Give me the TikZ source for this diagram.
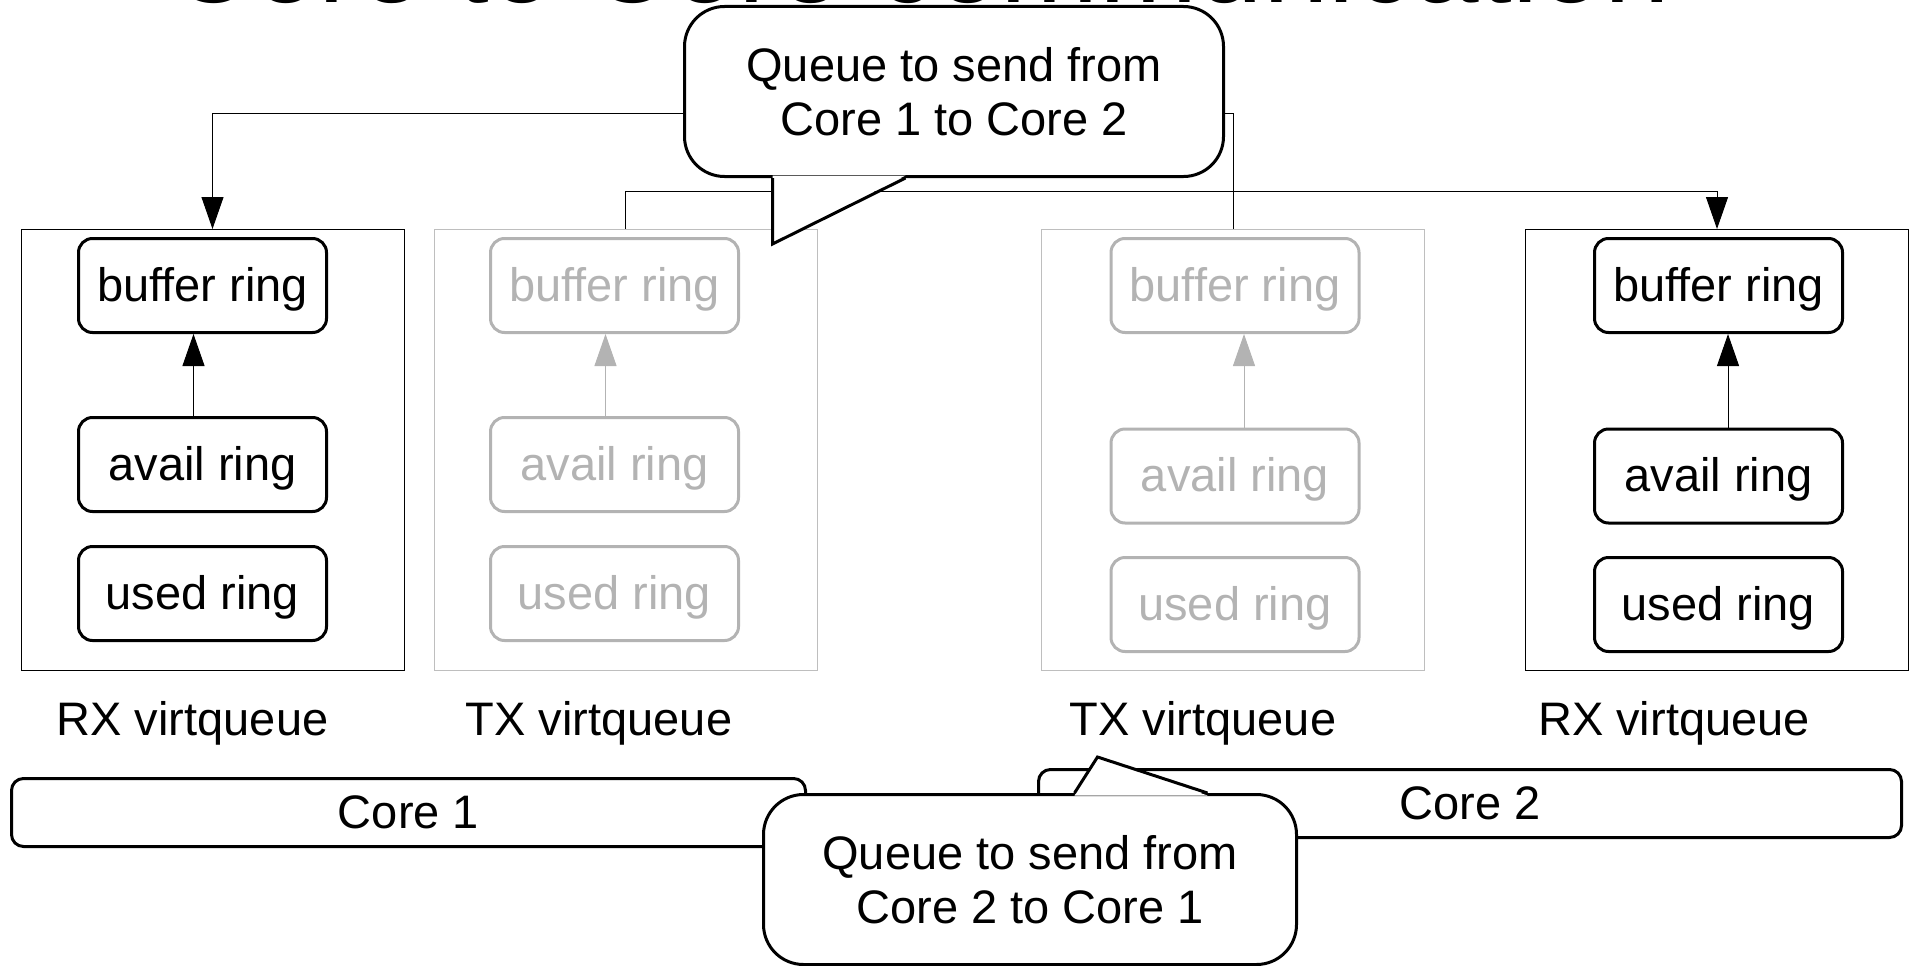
\documentclass[tikz,border=0pt]{standalone}
\usepackage{fontspec}
\setmainfont{Liberation Sans}
\usetikzlibrary{arrows.meta}

\definecolor{ringgray}{HTML}{B3B3B3}
\definecolor{boxgray}{HTML}{BEBEBE}

\tikzset{
    txt/.style={font=\fontsize{47}{54}\selectfont},
    vq/.style={draw, line width=1pt, minimum width=383pt, minimum height=441pt, inner sep=0pt},
    ring/.style={txt, draw, line width=3pt, rounded corners=14pt, minimum width=248pt,
        minimum height=94pt, inner sep=0pt, text height=42pt, text depth=11pt},
    ringoff/.style={ring, draw=ringgray, text=ringgray},
    feed/.style={-{Triangle[length=32pt,width=22pt]}, line width=1pt},
    core/.style={txt, draw, line width=3pt, rounded corners=12pt, minimum height=68pt,
        inner sep=0pt, text height=42pt, text depth=10pt},
    bubble/.style={txt, draw, fill=white, line width=3pt, rounded corners=40pt,
        minimum height=170pt, align=center, inner sep=0pt},
    tail/.style={line width=3pt, line join=miter}
}

\begin{document}
\begin{tikzpicture}[x=1pt,y=-1pt]
    \useasboundingbox (0,0) rectangle (1916,966);

    % title, mostly cut off by the top edge
    \node[font=\fontsize{118}{126}\selectfont, anchor=base] (title) at (919,3) {Core to Core communication};

    % the four virtqueues
    \node[vq] (rxA) at (212.5,450) {};
    \node[vq, draw=boxgray] (txA) at (625.5,450) {};
    \node[vq, draw=boxgray] (txB) at (1233,450) {};
    \node[vq] (rxB) at (1717,450) {};

    \node[ring] (bfA) at (202.5,285.5) {buffer ring};
    \node[ring] (avA) at (202.5,464.5) {avail ring};
    \node[ring] (usA) at (202.5,593.5) {used ring};
    \node[ringoff] (bfB) at (614.5,285.5) {buffer ring};
    \node[ringoff] (avB) at (614.5,464.5) {avail ring};
    \node[ringoff] (usB) at (614.5,593.5) {used ring};
    \node[ringoff] (bfC) at (1235,285.5) {buffer ring};
    \node[ringoff] (avC) at (1235,476) {avail ring};
    \node[ringoff] (usC) at (1235,604.5) {used ring};
    \node[ring] (bfD) at (1718.5,285.5) {buffer ring};
    \node[ring] (avD) at (1718.5,476) {avail ring};
    \node[ring] (usD) at (1718.5,604.5) {used ring};

    \draw[feed] ([xshift=-9pt]avA.north) -- ([xshift=-9pt]bfA.south);
    \draw[feed, ringgray] ([xshift=-9pt]avB.north) -- ([xshift=-9pt]bfB.south);
    \draw[feed, ringgray] ([xshift=9pt]avC.north) -- ([xshift=9pt]bfC.south);
    \draw[feed] ([xshift=9.5pt]avD.north) -- ([xshift=9.5pt]bfD.south);

    \node[txt, anchor=base] (lrxA) at (192.5,735) {RX virtqueue};
    \node[txt, anchor=base] (ltxA) at (599,735) {TX virtqueue};
    \node[txt, anchor=base] (ltxB) at (1203,735) {TX virtqueue};
    \node[txt, anchor=base] (lrxB) at (1674,735) {RX virtqueue};

    % TX of one core feeds RX of the other
    \draw[feed] (txB.north) -- ++(0,-116) -| (rxA.north);
    \draw[feed] (txA.north) -- ++(0,-38) -| (rxB.north);

    \node[core, minimum width=794pt] (coreA) at (408.5,812.5) {Core 1};
    \node[core, minimum width=863pt] (coreB) at (1470,803.5) {Core 2};

    % callouts
    \node[bubble, minimum width=539pt] (qa) at (954,91.5) {Queue to send from\\Core 1 to Core 2};
    \coordinate (qatip) at (772.5,244);
    \fill[white] ([xshift=89.5pt,yshift=2.5pt]qa.south west) -- (qatip) -- ([xshift=222.5pt,yshift=2.5pt]qa.south west) -- cycle;
    \draw[tail] ([xshift=89.5pt]qa.south west) -- (qatip) -- ([xshift=222.5pt]qa.south west);

    \node[bubble, minimum width=533pt] (qb) at (1030,879.5) {Queue to send from\\Core 2 to Core 1};
    \coordinate (qbtip) at (1097.5,757);
    \fill[white] ([xshift=312.5pt,yshift=-2.5pt]qb.north west) -- (qbtip) -- ([xshift=445.5pt,yshift=-2.5pt]qb.north west) -- cycle;
    \draw[tail] ([xshift=312.5pt]qb.north west) -- (qbtip) -- ([xshift=445.5pt]qb.north west);
\end{tikzpicture}
\end{document}
